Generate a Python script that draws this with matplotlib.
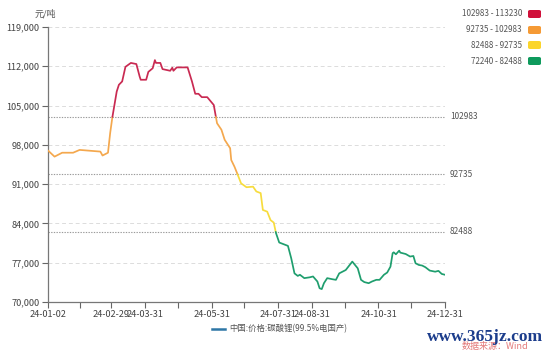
import matplotlib
matplotlib.use("Agg")
import matplotlib.pyplot as plt
import matplotlib.dates as mdates
from matplotlib.patches import FancyBboxPatch
import numpy as np
import pandas as pd

plt.rcParams['font.family'] = ['Noto Sans CJK SC', 'DejaVu Sans']

# ---- data ----
dates = ["2024-01-02", "2024-01-08", "2024-01-15", "2024-01-25", "2024-01-31",
         "2024-02-19", "2024-02-21", "2024-02-26", "2024-02-28", "2024-03-01",
         "2024-03-05", "2024-03-07", "2024-03-10", "2024-03-13", "2024-03-18",
         "2024-03-23", "2024-03-26", "2024-03-27", "2024-04-01", "2024-04-03",
         "2024-04-07", "2024-04-09", "2024-04-10", "2024-04-14", "2024-04-16",
         "2024-04-23", "2024-04-25", "2024-04-26", "2024-04-29", "2024-05-09",
         "2024-05-13", "2024-05-16", "2024-05-19", "2024-05-22", "2024-05-27",
         "2024-05-30", "2024-06-02", "2024-06-04", "2024-06-05", "2024-06-09",
         "2024-06-12", "2024-06-17", "2024-06-18", "2024-06-21", "2024-06-24",
         "2024-06-27", "2024-07-02", "2024-07-08", "2024-07-11", "2024-07-15",
         "2024-07-17", "2024-07-21", "2024-07-24", "2024-07-27", "2024-07-29",
         "2024-08-01", "2024-08-09", "2024-08-12", "2024-08-15", "2024-08-18",
         "2024-08-20", "2024-08-22", "2024-08-24", "2024-08-29", "2024-09-01",
         "2024-09-05", "2024-09-07", "2024-09-09", "2024-09-11", "2024-09-14",
         "2024-09-19", "2024-09-22", "2024-09-25", "2024-10-01", "2024-10-07",
         "2024-10-12", "2024-10-15", "2024-10-18", "2024-10-22", "2024-10-25",
         "2024-10-29", "2024-11-01", "2024-11-05", "2024-11-08", "2024-11-11",
         "2024-11-13", "2024-11-14", "2024-11-16", "2024-11-19", "2024-11-20",
         "2024-11-25", "2024-11-29", "2024-12-02", "2024-12-04", "2024-12-07",
         "2024-12-10", "2024-12-13", "2024-12-17", "2024-12-22", "2024-12-25",
         "2024-12-28", "2024-12-31"]
prices = [97000, 95900, 96600, 96600, 97100,
          96800, 96100, 96600, 100100, 102900,
          107500, 108700, 109300, 111900, 112600,
          112400, 110200, 109600, 109600, 111000,
          111650, 113100, 112600, 112600, 111500,
          111200, 111750, 111200, 111800, 111800,
          109300, 107100, 107100, 106500, 106500,
          105800, 105100, 102900, 101850, 100700,
          98900, 97400, 95300, 94100, 92650,
          91150, 90450, 90550, 89700, 89400,
          86400, 86100, 84600, 84150, 82300,
          80600, 80000, 77800, 75100, 74650,
          74850, 74550, 74250, 74400, 74550,
          73650, 72450, 72300, 73350, 74250,
          74050, 73950, 75100, 75700, 77200,
          76000, 73950, 73550, 73350, 73650,
          73950, 73950, 74850, 75250, 76300,
          78700, 78850, 78500, 79150, 78800,
          78550, 78100, 78200, 76900, 76600,
          76500, 76200, 75600, 75400, 75550,
          75000, 74850]

series_name = "中国:价格:碳酸锂(99.5%电国产)"
piece_bounds = [72240, 82488, 92735, 102983, 113230]
piece_labels = ["102983 - 113230", "92735 - 102983", "82488 - 92735", "72240 - 82488"]
piece_colors = ["#d0103a", "#f59a35", "#fbd52c", "#0e9a5c"]   # legend swatches
line_colors = ["#1f9e6e", "#f7dc3e", "#f4a84e", "#c92a52"]      # low -> high
mark_lines = [102983, 92735, 82488]

yticks = [70000, 77000, 84000, 91000, 98000, 105000, 112000, 119000]
xtick_dates = ["2024-01-02", "2024-01-31", "2024-02-29", "2024-03-31", "2024-04-30",
               "2024-05-31", "2024-06-30", "2024-07-31", "2024-08-31", "2024-09-30",
               "2024-10-31", "2024-11-30", "2024-12-31"]
xtick_labels = ["24-01-02", "", "24-02-29", "24-03-31", "", "24-05-31", "", "24-07-31",
                "24-08-31", "", "24-10-31", "", "24-12-31"]

# ---- figure ----
fig = plt.figure(figsize=(5.5, 3.54), dpi=100)
ax = fig.add_axes([48/550, 1-302/354, (445-48)/550, (302-27)/354])

x = mdates.date2num(pd.to_datetime(dates))
y = np.array(prices, dtype=float)

def color_index(v):
    for i in range(len(piece_bounds) - 1):
        if v < piece_bounds[i + 1]:
            return i
    return len(piece_bounds) - 2

# split into colored sub-segments at threshold crossings
pieces = []  # list of (color_idx, xs, ys)
for i in range(len(x) - 1):
    x0, y0, x1, y1 = x[i], y[i], x[i + 1], y[i + 1]
    cuts = [0.0]
    for b in piece_bounds[1:-1]:
        if (y0 - b) * (y1 - b) < 0:
            cuts.append((b - y0) / (y1 - y0))
    cuts.append(1.0)
    cuts.sort()
    for a, c in zip(cuts[:-1], cuts[1:]):
        xa, ya = x0 + a * (x1 - x0), y0 + a * (y1 - y0)
        xc, yc = x0 + c * (x1 - x0), y0 + c * (y1 - y0)
        ci = color_index((ya + yc) / 2)
        if pieces and pieces[-1][0] == ci and np.isclose(pieces[-1][1][-1], xa):
            pieces[-1][1].append(xc)
            pieces[-1][2].append(yc)
        else:
            pieces.append((ci, [xa, xc], [ya, yc]))

for ci, xs, ys in pieces:
    ax.plot(xs, ys, color=line_colors[ci], lw=1.25, solid_joinstyle='round',
            solid_capstyle='round', zorder=3)

ax.set_ylim(70000, 119000)
ax.set_xlim(x[0], mdates.date2num(pd.Timestamp("2024-12-31")))

# grid
for yt in yticks[1:]:
    ax.axhline(yt, color="#dcdcdc", lw=0.7, ls=(0, (4, 3)), zorder=1)
for m in mark_lines:
    ax.axhline(m, color="#9a9a9a", lw=0.8, ls=(0, (1.2, 1.2)), zorder=2)
    ax.text(1.012, m, str(m), transform=ax.get_yaxis_transform(), fontsize=6,
            color="#555555", va="center", ha="left")

ax.set_yticks(yticks)
ax.set_yticklabels([f"{v:,}" for v in yticks])
ax.set_xticks(mdates.date2num(pd.to_datetime(xtick_dates)))
ax.set_xticklabels(xtick_labels)
ax.tick_params(axis='both', labelsize=6.6, colors="#666666", labelcolor="#444444",
               length=4, width=0.8, pad=2)
for s in ["top", "right"]:
    ax.spines[s].set_visible(False)
for s in ["left", "bottom"]:
    ax.spines[s].set_color("#777777")
    ax.spines[s].set_linewidth(0.9)

fig.text(35/550, 1-14/354, "元/吨", fontsize=6.5, color="#555555", va="center", ha="left")

# top-right piece legend
ys_leg = [14, 30, 45, 61]
for lab, col, yy in zip(piece_labels, piece_colors, ys_leg):
    fig.text(522/550, 1-yy/354, lab, fontsize=5.8, color="#555555", ha="right", va="center")
    box = FancyBboxPatch((528/550, 1-(yy+4)/354), 13/550, 8/354,
                         boxstyle="round,pad=0,rounding_size=0.004",
                         transform=fig.transFigure, facecolor=col, edgecolor="none")
    fig.patches.append(box)

# bottom legend
fig.add_artist(plt.Line2D([212/550, 225/550], [1-329/354, 1-329/354],
                          transform=fig.transFigure, color="#2e77a6", lw=1.8))
fig.text(229/550, 1-329/354, series_name, fontsize=6, color="#555555", va="center", ha="left")

# watermark / source
fig.text(462/550, 1-347/354, "数据来源：Wind", fontsize=6.5, color="#e06a6a", va="center",
         ha="left", alpha=0.9)
fig.text(427/550, 1-337/354, "www.365jz.com", fontsize=12.5, color="#1c3d8c",
         fontweight="bold", family=["Liberation Serif"], va="center", ha="left")

fig.savefig("out.png", dpi=100, facecolor="white")
